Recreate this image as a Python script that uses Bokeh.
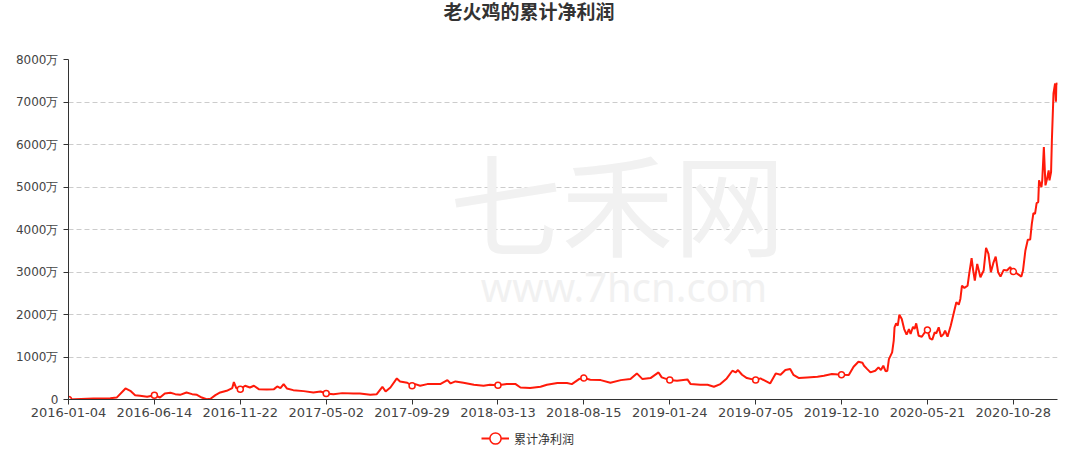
from bokeh.plotting import figure
from bokeh.models import Range1d, FixedTicker, Legend, LegendItem, Label, Title
from bokeh.layouts import column
from bokeh.embed import file_html
from bokeh.resources import INLINE

title_text = "老火鸡的累计净利润"
series_name = "累计净利润"
tick_labels = ["2016-01-04", "2016-06-14", "2016-11-22", "2017-05-02", "2017-09-29",
               "2018-03-13", "2018-08-15", "2019-01-24", "2019-07-05", "2019-12-10",
               "2020-05-21", "2020-10-28"]
label_step = 107
last_index = 1232

day_index = [0, 31, 52, 60, 71, 77, 83, 89, 98, 107, 114, 120, 127, 133, 139, 147, 154, 160, 166, 172,
             177, 183, 189, 197, 204, 206, 209, 214, 220, 226, 231, 237, 247, 256, 260, 264, 268, 272,
             280, 293, 305, 314, 321, 330, 341, 355, 363, 376, 384, 391, 395, 401, 409, 413, 422, 428,
             432, 438, 447, 455, 463, 472, 476, 482, 492, 505, 517, 525, 535, 546, 557, 563, 575, 588,
             596, 609, 621, 627, 636, 642, 650, 663, 675, 688, 700, 708, 715, 725, 735, 739, 749, 758,
             771, 775, 787, 796, 804, 812, 820, 827, 831, 834, 839, 845, 856, 862, 874, 881, 887, 893,
             899, 903, 910, 920, 933, 941, 951, 963, 972, 978, 984, 989, 991, 995, 999, 1005, 1009,
             1012, 1015, 1018, 1020, 1022, 1026, 1028, 1029, 1031, 1033, 1035, 1038, 1041, 1044, 1047,
             1049, 1052, 1054, 1056, 1059, 1063, 1068, 1070, 1073, 1076, 1079, 1081, 1084, 1087, 1090,
             1092, 1095, 1099, 1103, 1106, 1109, 1111, 1113, 1116, 1120, 1122, 1125, 1127, 1129, 1132,
             1135, 1136, 1140, 1143, 1146, 1149, 1152, 1155, 1158, 1161, 1165, 1169, 1173, 1177, 1181,
             1184, 1187, 1189, 1192, 1195, 1198, 1200, 1202, 1204, 1206, 1208, 1209, 1212, 1213, 1215,
             1217, 1219, 1221, 1222, 1224, 1225, 1227, 1229, 1230, 1231, 1232]

profit_wan = [0, 25, 30, 45, 260, 205, 102, 87, 63, 102, 47, 142, 157, 126, 110, 165, 126, 110, 47, 5,
              16, 102, 165, 205, 268, 409, 268, 244, 323, 283, 323, 244, 236, 244, 307, 268, 362, 260,
              220, 197, 165, 189, 142, 126, 150, 142, 142, 110, 126, 299, 190, 283, 496, 425, 394, 323,
              362, 323, 362, 362, 362, 456, 378, 425, 394, 346, 323, 346, 338, 362, 362, 283, 268, 299,
              346, 386, 386, 362, 480, 504, 464, 456, 394, 456, 480, 614, 480, 504, 637, 520, 456, 441,
              472, 362, 346, 346, 299, 362, 496, 677, 637, 692, 582, 504, 456, 496, 378, 614, 582, 692,
              716, 582, 504, 520, 535, 559, 598, 582, 574, 771, 889, 865, 794, 715, 637, 676, 755,
              692, 794, 660, 676, 951, 1108, 1383, 1698, 1792, 1737, 1996, 1894, 1658, 1525, 1658,
              1540, 1713, 1658, 1792, 1501, 1478, 1619, 1635, 1438, 1407, 1580, 1556, 1698, 1478, 1540,
              1619, 1478, 1737, 2052, 2287, 2232, 2366, 2680, 2625, 2680, 2955, 3325, 3034, 2798, 3191,
              2955, 2877, 3034, 3568, 3427, 2995, 3207, 3364, 2995, 2892, 3050, 3034, 3113, 3010, 2971,
              2932, 2892, 3034, 3506, 3757, 3765, 4134, 4386, 4370, 4622, 4645, 5156, 4999, 5156, 5942,
              5038, 5196, 5392, 5156, 5353, 6100, 7200, 7436, 7004, 7451, 7400]

y_ticks = [0, 1000, 2000, 3000, 4000, 5000, 6000, 7000, 8000]
y_tick_labels = ["0", "1000万", "2000万", "3000万", "4000万", "5000万", "6000万", "7000万", "8000万"]

x_ticks = [i * label_step for i in range(len(tick_labels))]
mark_x = [d for d in day_index if d % label_step == 0]
mark_y = [v for d, v in zip(day_index, profit_wan) if d % label_step == 0]

RED = "#ff1a0a"

p = figure(width=1072, height=424, output_backend="svg", toolbar_location=None,
           x_range=Range1d(0, last_index), y_range=Range1d(0, 8000),
           min_border_left=68, min_border_right=15, min_border_top=59, min_border_bottom=25)
p.outline_line_color = None
p.background_fill_color = "white"

# watermark
wm1 = Label(x=684, y=4684, text="七禾网", text_font="Noto Sans CJK SC", text_font_size="112px",
            text_color="#f1f1f1", text_align="center", text_baseline="middle", level="underlay")
wm2 = Label(x=692, y=2653, text="www.7hcn.com", text_font="Noto Sans", text_font_size="40px",
            text_color="#f1f1f1", text_align="center", text_baseline="middle", level="underlay")
p.add_layout(wm1)
p.add_layout(wm2)

p.line(day_index, profit_wan, line_color=RED, line_width=2)
p.scatter(mark_x, mark_y, marker="circle", size=6, fill_color="white", line_color=RED, line_width=1.5)

p.xgrid.visible = False
p.ygrid.ticker = FixedTicker(ticks=y_ticks)
p.ygrid.grid_line_color = "#cccccc"
p.ygrid.grid_line_dash = "5 3"

xa = p.xaxis[0]
xa.ticker = FixedTicker(ticks=x_ticks)
xa.major_label_overrides = {t: s for t, s in zip(x_ticks, tick_labels)}
xa.major_label_text_font = "DejaVu Sans"
xa.major_label_text_font_size = "13px"
xa.major_label_text_color = "#444444"
xa.major_label_standoff = 3
xa.axis_line_color = "#333333"
xa.major_tick_line_color = "#333333"
xa.major_tick_out = 5
xa.major_tick_in = 0
xa.minor_tick_line_color = None

ya = p.yaxis[0]
ya.ticker = FixedTicker(ticks=y_ticks)
ya.major_label_overrides = {t: s for t, s in zip(y_ticks, y_tick_labels)}
ya.major_label_text_font = "DejaVu Sans"
ya.major_label_text_font_size = "12px"
ya.major_label_text_color = "#444444"
ya.major_label_standoff = 5
ya.axis_line_color = "#333333"
ya.major_tick_line_color = "#333333"
ya.major_tick_out = 5
ya.major_tick_in = 0
ya.minor_tick_line_color = None

# spacer between frame and title, then the title itself (farther from the frame)
spacer = Title(text="\u00a0", text_font_size="1px", standoff=42)
p.add_layout(spacer, "above")
main_title = Title(text=title_text, align="left", offset=375, vertical_align="middle", standoff=-20,
                   text_font="Noto Sans CJK SC", text_font_size="19px", text_font_style="bold",
                   text_color="#333333")
p.add_layout(main_title, "above")

# legend strip below the chart (its series sits outside this strip's visible y-range)
lg = figure(width=1072, height=33, output_backend="svg", toolbar_location=None,
            x_range=Range1d(0, last_index), y_range=Range1d(-2, -1),
            x_axis_location=None, y_axis_location=None, min_border=0)
lg.outline_line_color = None
lg.xgrid.visible = False
lg.ygrid.visible = False
leg_line = lg.line(day_index, profit_wan, line_color=RED, line_width=2)
leg_mark = lg.scatter(mark_x, mark_y, marker="circle", size=10, fill_color="white",
                      line_color=RED, line_width=1.5)
legend = Legend(items=[LegendItem(label=series_name, renderers=[leg_line, leg_mark])],
                location=(413, 5), orientation="horizontal",
                glyph_width=28, glyph_height=28, padding=0, margin=0, spacing=0,
                label_standoff=5, label_text_font="Noto Sans CJK SC", label_text_font_size="12px",
                label_text_color="#333333", border_line_color=None, background_fill_alpha=0)
lg.add_layout(legend)

layout = column(p, lg, spacing=0)
open("out.html", "w").write(file_html(layout, INLINE))
